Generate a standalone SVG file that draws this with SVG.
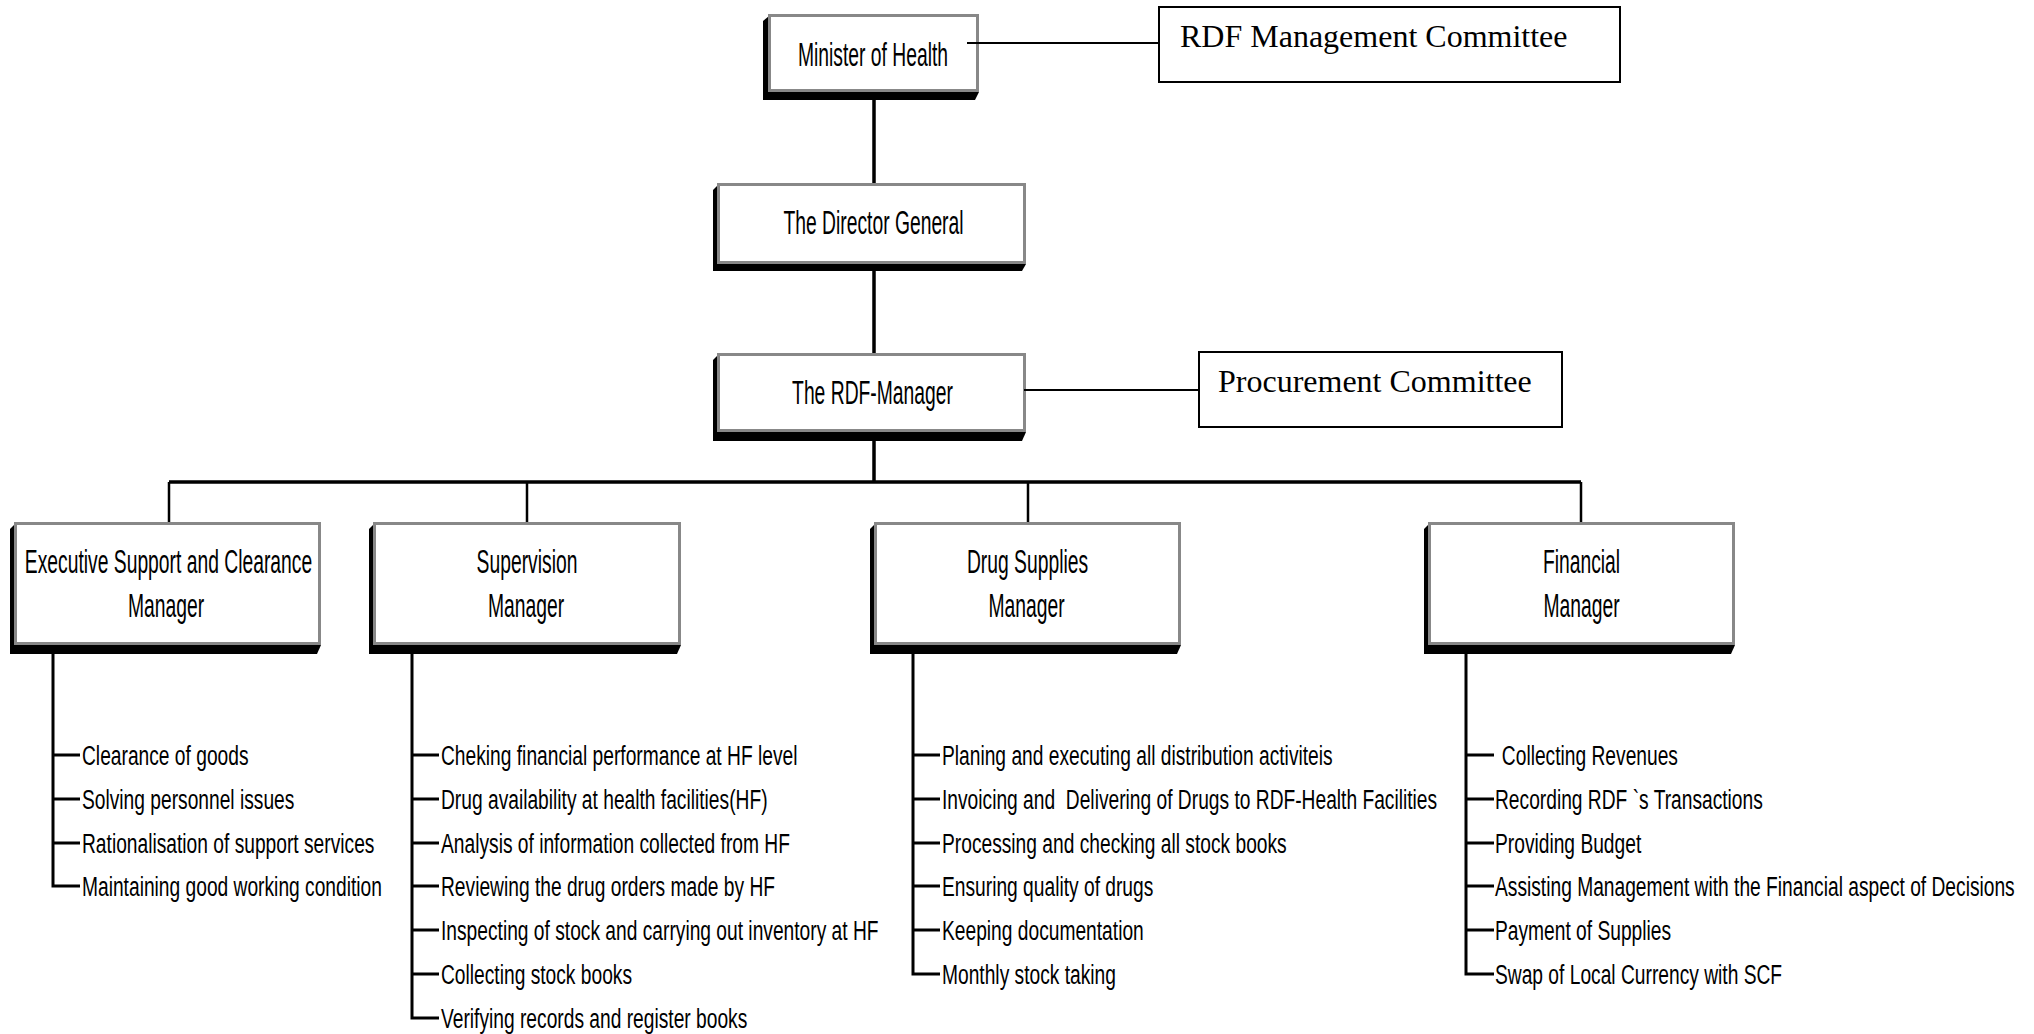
<svg xmlns="http://www.w3.org/2000/svg" width="2034" height="1034" viewBox="0 0 2034 1034">
  <style>
    .bg{fill:#fff}
    .box{fill:#fff;stroke:#888;stroke-width:3}
    .shadow{fill:#000}
    .cbox{fill:#fff;stroke:#000;stroke-width:2}
    .t{font-family:"Liberation Sans",Arial,sans-serif;font-size:33px;text-anchor:middle;fill:#000}
    .li{font-family:"Liberation Sans",Arial,sans-serif;font-size:28px;fill:#000}
    .st{font-family:"Liberation Serif","Times New Roman",serif;font-size:32px;fill:#000}
    .spine{stroke:#000;stroke-width:3.5;fill:none}
    .drop{stroke:#000;stroke-width:2.5;fill:none}
    .thin{stroke:#000;stroke-width:2;fill:none}
    .list{stroke:#000;stroke-width:3;fill:none}
  </style>

  <rect class="bg" x="0" y="0" width="2034" height="1034"/>

  <!-- Nodes -->
  <g id="minister">
    <polygon class="shadow" points="769,16 763,21 763,100 975,100 979,92"/>
    <rect class="box" x="769.5" y="15.5" width="208" height="75"/>
    <text class="t" transform="translate(873 66) scale(.585 1)">Minister of Health</text>
  </g>

  <g id="rdf-management-committee">
    <rect class="cbox" x="1159" y="7" width="461" height="75"/>
    <text class="st" x="1180" y="47">RDF Management Committee</text>
  </g>

  <g id="director-general">
    <polygon class="shadow" points="718,185 713,190 713,271 1022,271 1026,264"/>
    <rect class="box" x="718.5" y="184.5" width="306" height="78"/>
    <text class="t" transform="translate(873.5 234) scale(.585 1)">The Director General</text>
  </g>

  <g id="rdf-manager">
    <polygon class="shadow" points="718,355 713,360 713,441 1022,441 1026,432"/>
    <rect class="box" x="718.5" y="354.5" width="306" height="76"/>
    <text class="t" transform="translate(872.5 404) scale(.585 1)">The RDF-Manager</text>
  </g>

  <g id="procurement-committee">
    <rect class="cbox" x="1199" y="352" width="363" height="75"/>
    <text class="st" x="1218" y="392">Procurement Committee</text>
  </g>

  <g id="executive-support">
    <polygon class="shadow" points="15,524 10,529 10,654 317,654 321,645"/>
    <rect class="box" x="15.5" y="523.5" width="304" height="120"/>
    <text class="t" transform="translate(168.5 573) scale(.585 1)">Executive Support and Clearance</text>
    <text class="t" transform="translate(166 617) scale(.585 1)">Manager</text>
  </g>

  <g id="supervision">
    <polygon class="shadow" points="374,524 369,529 369,654 677,654 681,645"/>
    <rect class="box" x="374.5" y="523.5" width="305" height="120"/>
    <text class="t" transform="translate(527 573) scale(.585 1)">Supervision</text>
    <text class="t" transform="translate(526 617) scale(.585 1)">Manager</text>
  </g>

  <g id="drug-supplies">
    <polygon class="shadow" points="875,524 870,529 870,654 1177,654 1181,645"/>
    <rect class="box" x="875.5" y="523.5" width="304" height="120"/>
    <text class="t" transform="translate(1027.5 573) scale(.585 1)">Drug Supplies</text>
    <text class="t" transform="translate(1026.5 617) scale(.585 1)">Manager</text>
  </g>

  <g id="financial">
    <polygon class="shadow" points="1429,524 1424,529 1424,654 1731,654 1735,645"/>
    <rect class="box" x="1429.5" y="523.5" width="304" height="120"/>
    <text class="t" transform="translate(1581.5 573) scale(.585 1)">Financial</text>
    <text class="t" transform="translate(1581.5 617) scale(.585 1)">Manager</text>
  </g>

  <!-- Task lists under each manager -->
  <g id="executive-support-tasks" transform="translate(82 0) scale(.686 1)">
    <text class="li" x="0" y="765">Clearance of goods</text>
    <text class="li" x="0" y="809">Solving personnel issues</text>
    <text class="li" x="0" y="853">Rationalisation of support services</text>
    <text class="li" x="0" y="896">Maintaining good working condition</text>
  </g>

  <g id="supervision-tasks" transform="translate(441 0) scale(.686 1)">
    <text class="li" x="0" y="765">Cheking financial performance at HF level</text>
    <text class="li" x="0" y="809">Drug availability at health facilities(HF)</text>
    <text class="li" x="0" y="853">Analysis of information collected from HF</text>
    <text class="li" x="0" y="896">Reviewing the drug orders made by HF</text>
    <text class="li" x="0" y="940">Inspecting of stock and carrying out inventory at HF</text>
    <text class="li" x="0" y="984">Collecting stock books</text>
    <text class="li" x="0" y="1028">Verifying records and register books</text>
  </g>

  <g id="drug-supplies-tasks" transform="translate(942 0) scale(.686 1)">
    <text class="li" x="0" y="765">Planing and executing all distribution activiteis</text>
    <text class="li" x="0" y="809" xml:space="preserve">Invoicing and  Delivering of Drugs to RDF-Health Facilities</text>
    <text class="li" x="0" y="853">Processing and checking all stock books</text>
    <text class="li" x="0" y="896">Ensuring quality of drugs</text>
    <text class="li" x="0" y="940">Keeping documentation</text>
    <text class="li" x="0" y="984">Monthly stock taking</text>
  </g>

  <g id="financial-tasks" transform="translate(1495 0) scale(.686 1)">
    <text class="li" x="10" y="765">Collecting Revenues</text>
    <text class="li" x="0" y="809">Recording RDF `s Transactions</text>
    <text class="li" x="0" y="853">Providing Budget</text>
    <text class="li" x="0" y="896">Assisting Management with the Financial aspect of Decisions</text>
    <text class="li" x="0" y="940">Payment of Supplies</text>
    <text class="li" x="0" y="984">Swap of Local Currency with SCF</text>
  </g>

  <!-- Connectors -->
  <g id="connectors">
    <path class="spine" d="M874 100 V183 M874 271 V353 M874 441 V482 M169 482 H1581"/>
    <path class="drop" d="M169 482 V522 M527 482 V522 M1028 482 V522 M1581 482 V522"/>
    <path class="thin" d="M967 43 H1158 M1024 390 H1198"/>
    <path class="list" d="M53 654 V886 H80 M53 755 H80 M53 799 H80 M53 843 H80"/>
    <path class="list" d="M412 654 V1018 H439 M412 755 H439 M412 799 H439 M412 843 H439 M412 886 H439 M412 930 H439 M412 974 H439"/>
    <path class="list" d="M913 654 V974 H940 M913 755 H940 M913 799 H940 M913 843 H940 M913 886 H940 M913 930 H940"/>
    <path class="list" d="M1466 654 V974 H1494 M1466 755 H1494 M1466 799 H1494 M1466 843 H1494 M1466 886 H1494 M1466 930 H1494"/>
  </g>
</svg>
